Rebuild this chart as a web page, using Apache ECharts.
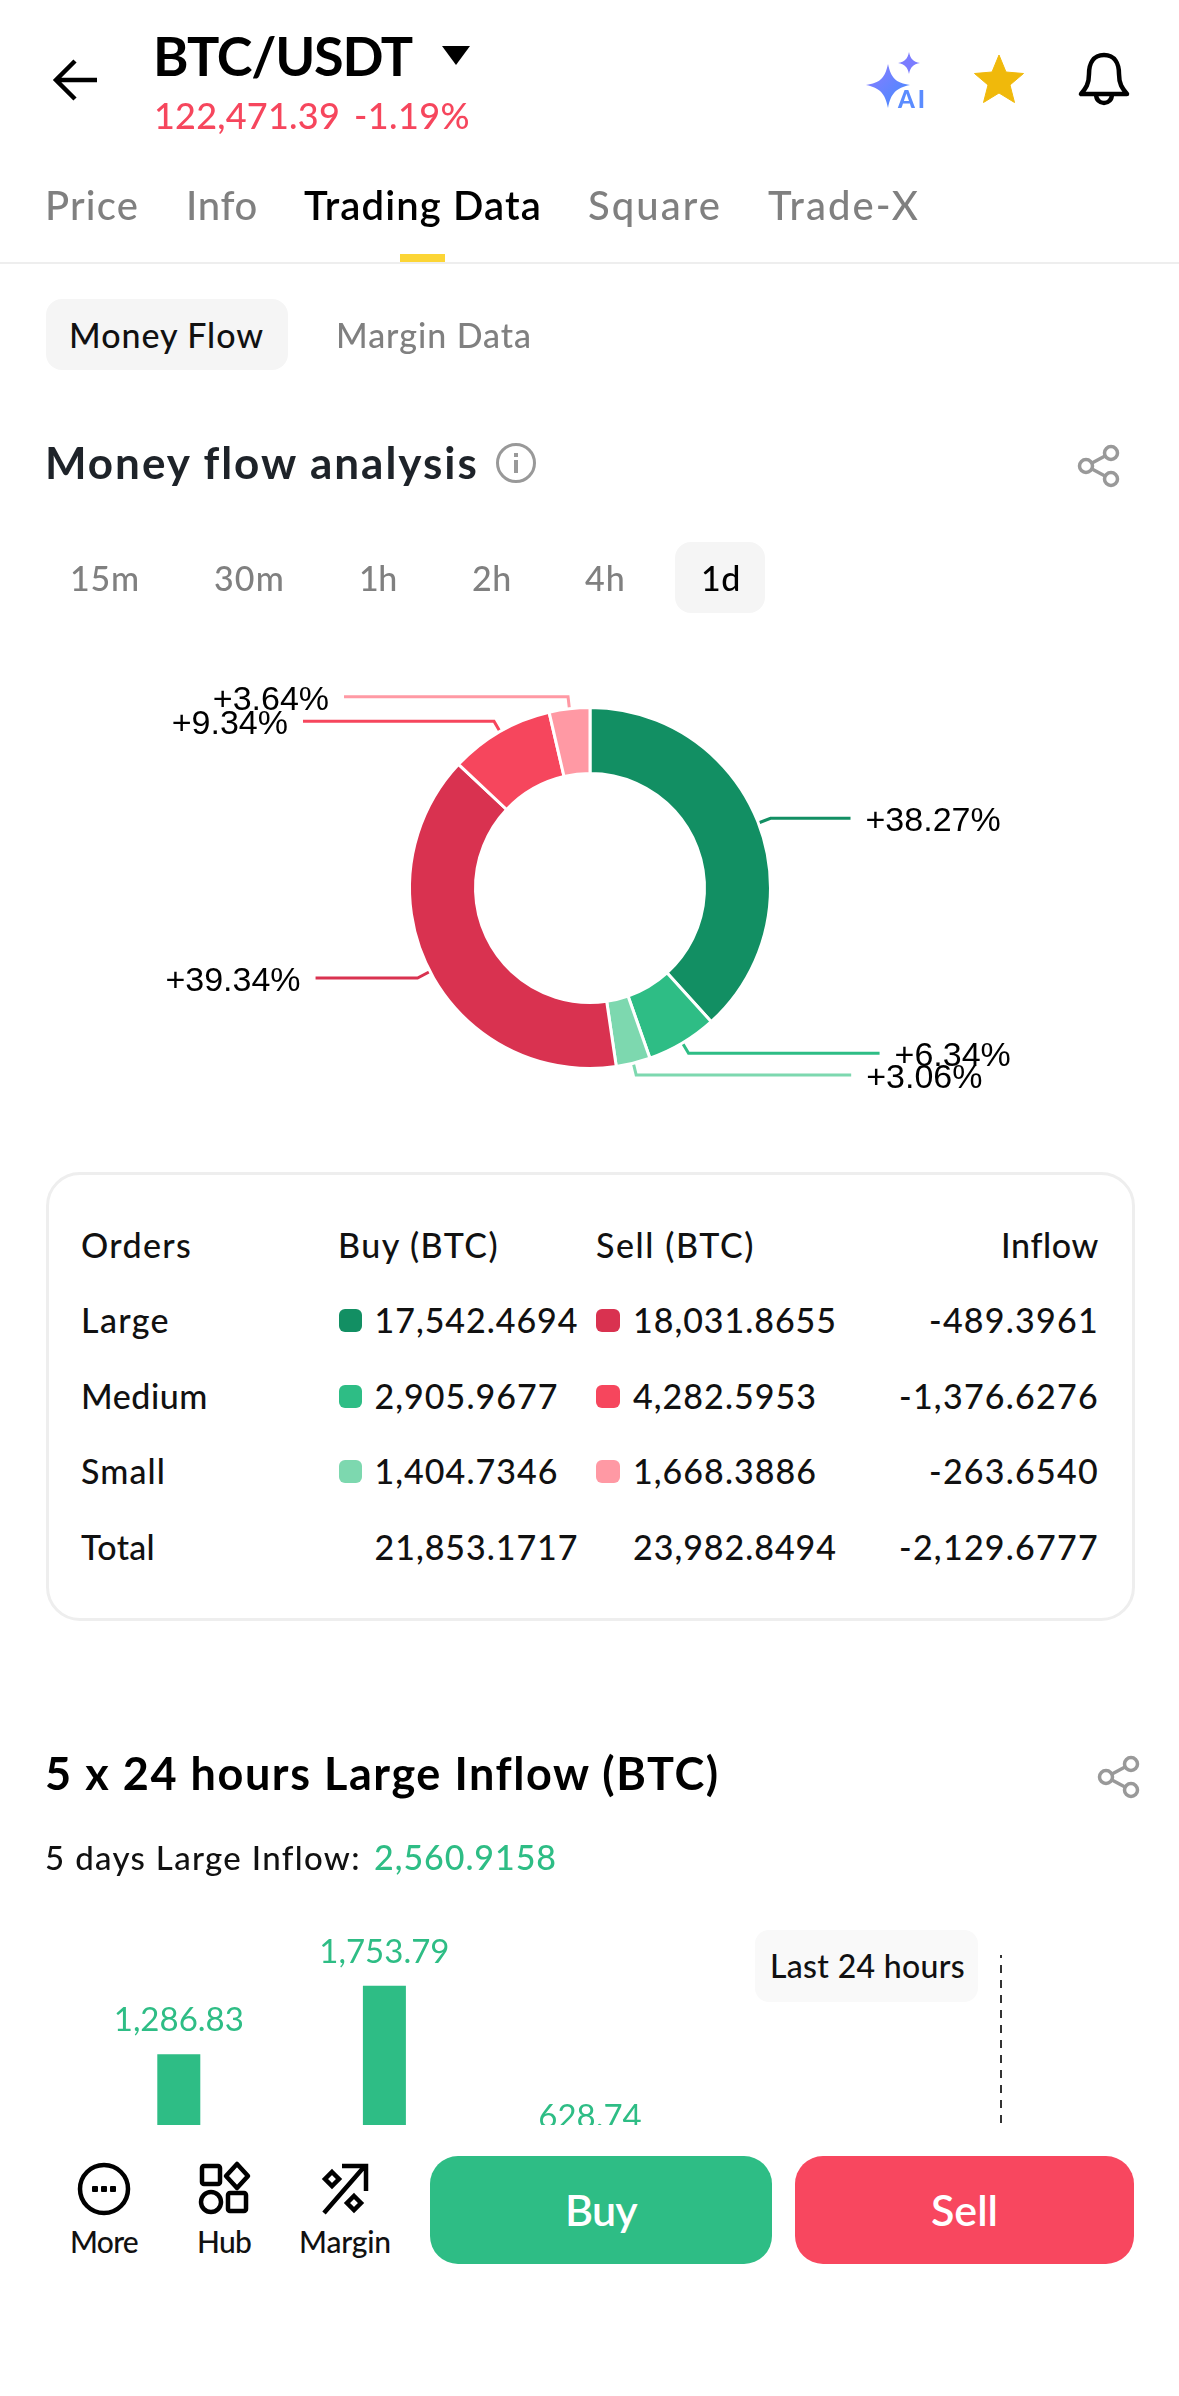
<!DOCTYPE html>
<html><head><meta charset="utf-8"><title>BTC/USDT Trading Data</title>
<style>
html,body{margin:0;padding:0;background:#fff;width:1179px;height:2396px;overflow:hidden;font-family:Lato,sans-serif}
#chart{position:absolute;left:0;top:0;width:1179px;height:2396px}
.t{position:absolute;white-space:nowrap;line-height:1;transform:translateY(-50%);z-index:5}
.b{position:absolute;z-index:3}
svg{position:absolute;z-index:5;overflow:visible}
</style></head><body>
<div id="chart"></div>
<div id="ui"></div>
<script src="https://cdn.jsdelivr.net/npm/echarts@6/dist/echarts.min.js"></script>
<script>
// ---- data
const shareNames = ['Large Buy','Medium Buy','Small Buy','Large Sell','Medium Sell','Small Sell'];
const shareValues = [38.27,6.34,3.06,39.34,9.34,3.64];
const shareColors = ['#128F63','#2EBD85','#7DD8AF','#D93250','#F6465D','#FF99A4'];
const shareLine = [[13,80],[12,191],[12,215],[14,102],[12,191],[12,224]];
const rowNames = ['Large','Medium','Small','Total'];
const buyValues = ['17,542.4694','2,905.9677','1,404.7346','21,853.1717'];
const sellValues = ['18,031.8655','4,282.5953','1,668.3886','23,982.8494'];
const inflowValues = ['-489.3961','-1,376.6276','-263.6540','-2,129.6777'];
const inflowDays = ['Day 1','Day 2','Day 3','Day 4','Last 24 hours'];
const inflowValuesLarge = [1286.83,1753.79,628.74,null,null];
const tabs = ['Price','Info','Trading Data','Square','Trade-X'];
const ranges = ['15m','30m','1h','2h','4h','1d'];

// ---- chart
const chart = echarts.init(document.getElementById('chart'),null,{renderer:'canvas'});
const fmt = v => v.toLocaleString('en-US',{minimumFractionDigits:2,maximumFractionDigits:2});
const pieFont={fontFamily:'"Liberation Sans",Arial,sans-serif',fontSize:34,color:'#000'};
chart.setOption({
  animation:false,
  grid:{left:76,width:1028,top:1955,height:288},
  xAxis:{type:'category',data:inflowDays,show:false},
  yAxis:{type:'value',min:0,max:1963,show:false},
  series:[
   {type:'pie',center:[590,888],radius:[114.5,180.5],startAngle:90,avoidLabelOverlap:false,
    itemStyle:{borderColor:'#fff',borderWidth:3},
    labelLayout:{hideOverlap:false},
    label:{show:true,position:'outside',...pieFont,distanceToLabelLine:15,
      rich:{p:{...pieFont,padding:[7,0,0,0]}},
      formatter:p=>'{p|+'+p.value.toFixed(2)+'%}'},
    labelLine:{show:true,smooth:false,lineStyle:{width:3}},
    emphasis:{disabled:true},
    data:shareValues.map((v,i)=>({name:shareNames[i],value:v,itemStyle:{color:shareColors[i]},
      labelLine:{length:shareLine[i][0],length2:shareLine[i][1],lineStyle:{color:shareColors[i]}}}))},
   {type:'bar',data:inflowValuesLarge,barWidth:43,itemStyle:{color:'#2EBD85'},
    label:{show:true,position:'top',distance:17,fontFamily:'Lato',fontSize:33,color:'#2EBD85',formatter:p=>fmt(p.value)},
    markLine:{silent:true,symbol:'none',label:{show:false},lineStyle:{type:[8,7],color:'#333',width:2},data:[{xAxis:inflowDays[4]}]}}
  ]
});

// ---- page chrome (HTML)
const ui=document.getElementById('ui');
function T(x0,x1,yc,s,size,weight,color,right){
  const e=document.createElement('div');e.className='t';e.textContent=s;
  e.style.cssText+=`font-size:${size}px;font-weight:${weight};color:${color};top:${yc}px;left:${x0}px`;
  ui.appendChild(e);
  const w=e.getBoundingClientRect().width, n=s.length;
  e.style.letterSpacing=((x1-x0-w)/n)+'px';
  return e;
}
function B(x,y,w,h,bg,r,extra){
  const e=document.createElement('div');e.className='b';
  e.style.cssText+=`left:${x}px;top:${y}px;width:${w}px;height:${h}px;background:${bg};border-radius:${r||0}px;${extra||''}`;
  ui.appendChild(e);return e;
}
function S(x,y,w,h,inner){
  const d=document.createElementNS('http://www.w3.org/2000/svg','svg');
  d.setAttribute('width',w);d.setAttribute('height',h);d.setAttribute('viewBox',`0 0 ${w} ${h}`);
  d.style.left=x+'px';d.style.top=y+'px';d.innerHTML=inner;ui.appendChild(d);
}
const GR='#808080',BK='#000',DK='#1E2329',GN='#2EBD85',RD='#F6465D';
// header
S(53,58,46,44,'<path d="M44 22H4M22 3L3 22l19 19" fill="none" stroke="#000" stroke-width="4.5"/>');
T(153,412,56,'BTC/USDT',54,700,BK);
S(442,46,28,19,'<path d="M0 0H28L14 19Z" fill="#000"/>');
T(154,340,115,'122,471.39',36,500,RD);
T(354,470,115,'-1.19%',36,500,RD);
S(864,52,64,56,`<defs><linearGradient id="g" x1="0" y1="0" x2="1" y2="1"><stop offset="0" stop-color="#8F7BFF"/><stop offset="1" stop-color="#3F8CFF"/></linearGradient></defs>
 <path d="M24 12C27 26 32 31 46 33C32 36 27 41 24 56C21 41 16 36 2 33C16 31 21 26 24 12Z" fill="url(#g)"/>
 <path d="M45 0C46.500 7 49 9.500 56 11C49 12.500 46.500 15 45 22C43.500 15 41 12.500 34 11C41 9.500 43.500 7 45 0Z" fill="#7B7CFF"/>`);
T(898,928,99,'AI',24,900,'#5B8CFF');
S(974,54,50,49,'<path d="M25 1L32 18L49.500 19.500L36 31L40.500 48.500L25 39L9.500 48.500L14 31L.5 19.500L18 18Z" fill="#F0B90B" stroke="#F0B90B" stroke-width="1" stroke-linejoin="round"/>');
S(1079,52,50,54,'<path d="M25 3C14 3 10 12 10 22C10 32 7 36 2 42H48C43 36 40 32 40 22C40 12 36 3 25 3Z M17 42C17 54 33 54 33 42" fill="none" stroke="#000" stroke-width="4.5" stroke-linejoin="round"/>');
// tabs
const tabX=[[45,139],[186,258],[304,542],[588,722],[768,920]];
tabs.forEach((s,i)=>T(tabX[i][0],tabX[i][1],204.5,s,40,i==2?600:500,i==2?BK:GR));
B(400,254,45,8,'#FCD535');
B(0,262,1179,1.5,'#EEEEEE');
// sub tabs
B(46,299,242,71,'#F5F5F5',16);
T(69,264,335,'Money Flow',34,500,'#111');
T(336,532,335,'Margin Data',34,500,GR);
// section 1
T(45,479,461.5,'Money flow analysis',44,700,DK);
S(496,443,40,40,'<circle cx="20" cy="20" r="18.500" fill="none" stroke="#999" stroke-width="3"/><rect x="18" y="17" width="4" height="13" fill="#999"/><rect x="18" y="10" width="4" height="4" fill="#999"/>');
const share=(x,y)=>S(x,y,42,42,'<g fill="none" stroke="#999" stroke-width="3.500"><circle cx="8" cy="21" r="6.500"/><circle cx="33" cy="8" r="6.500"/><circle cx="33" cy="34" r="6.500"/><path d="M14 18L27 11M14 24L27 31"/></g>');
share(1078,445);
B(675,542,90,71,'#F5F5F5',16);
const rX=[[70,140],[214,285],[359,397],[472,512],[585,626],[701,741]];
ranges.forEach((s,i)=>T(rX[i][0],rX[i][1],577.5,s,34,500,i==5?BK:GR));
// table
B(46,1172,1089,449,'#fff',34,'border:3px solid #EEEEEE;box-sizing:border-box');
T(81,192,1245,'Orders',34,500,'#111');
T(338,499,1245,'Buy (BTC)',34,500,'#111');
T(596,755,1245,'Sell (BTC)',34,500,'#111');
T(1001,1099,1245,'Inflow',34,500,'#111');
const yR=[1320,1396,1471,1547];
const wName=[89,127,85,74],wVal=[202,182,182,202],wSell=[202,182,182,202],wIn=[168,198,168,198];
rowNames.forEach((s,i)=>{
  const y=yR[i];
  T(81,81+wName[i],y,s,34,500,'#111');
  if(i<3){B(339,y-11.500,23,23,shareColors[i],6);B(596,y-11.500,24,23,shareColors[i+3],6);}
  T(374.500,376.500+wVal[i],y,buyValues[i],34,500,'#111');
  T(633,635+wSell[i],y,sellValues[i],34,500,'#111');
  T(1097-wIn[i],1099,y,inflowValues[i],34,500,'#111');
});
// section 2
T(45,720,1772.5,'5 x 24 hours Large Inflow (BTC)',45,700,BK);
share(1098,1756);
T(45,361,1857,'5 days Large Inflow:',33,500,'#111');
T(374,557,1857,'2,560.9158',34,500,GN);
B(755,1930,223,72,'#F9F9F9',14);
T(770,965,1965.5,'Last 24 hours',32,500,'#111');
// bottom bar
B(0,2125,1179,271,'#fff');
S(78,2163,54,52,'<circle cx="26" cy="26" r="24" fill="none" stroke="#000" stroke-width="4.500"/><g fill="#000"><rect x="14" y="23" width="6" height="6" rx="1"/><rect x="23" y="23" width="6" height="6" rx="1"/><rect x="32" y="23" width="6" height="6" rx="1"/></g>');
S(200,2163,50,52,'<g fill="none" stroke="#000" stroke-width="4.500" stroke-linejoin="round"><rect x="2" y="3" width="18" height="18" rx="2"/><path d="M37 1L48 13L37 25L26 13Z"/><circle cx="11" cy="39" r="10"/><rect x="28" y="30" width="18" height="18" rx="2"/></g>');
S(322,2163,46,52,'<g fill="none" stroke="#000" stroke-width="4.500"><path d="M2 50L42 4M20 3H44V28"/><path d="M10 9L17 16L10 23L3 16Z"/><path d="M32 33L39 40L32 47L25 40Z"/></g>');
T(70,138,2241,'More',30,500,'#111');
T(197,251,2241,'Hub',30,500,'#111');
T(299,391,2241,'Margin',30,500,'#111');
B(430,2156,342,108,'#2EBD85',28);
B(795,2156,339,108,'#F8475F',28);
T(565,637,2209,'Buy',43,600,'#fff');
T(931,998,2209,'Sell',43,600,'#fff');
</script>
</body></html>
